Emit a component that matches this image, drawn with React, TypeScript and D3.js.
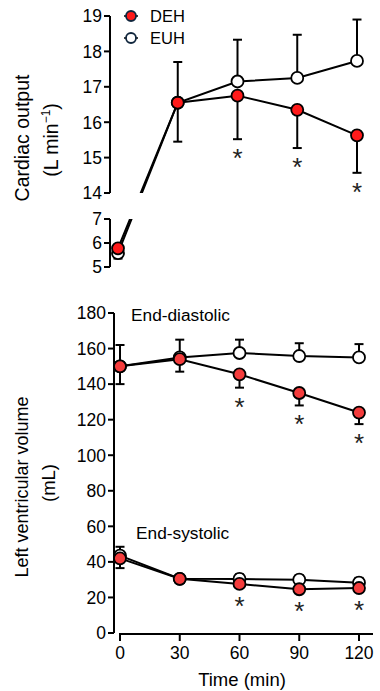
import React from 'react';
import * as d3 from 'd3';

// time points (min)
const times = [0, 30, 60, 90, 120];

// cardiac output (L/min)
const coDEH = [5.78, 16.55, 16.75, 16.35, 15.63];
const coEUH = [5.58, 16.55, 17.15, 17.25, 17.73];
const coDEHlo = [null, 15.45, 15.52, 15.27, 14.57];
const coEUHhi = [null, 17.7, 18.33, 18.47, 18.9];
const coEUHlo = [5.35, null, null, null, null];
const coSig = [false, false, true, true, true];

// left ventricular volumes (mL)
const edDEH = [150, 154, 145.5, 135, 124];
const edEUH = [150, 155, 157.5, 155.8, 155];
const edDEHlo = [140, 147, 138, 128, 117.5];
const edEUHhi = [162, 165, 165, 163, 162.5];
const esDEH = [42, 30.5, 27.6, 24.6, 25.3];
const esEUH = [43.5, 30.5, 30.4, 30, 28.3];
const esDEHlo = [36.5, 28.5, 26, 23, 23.5];
const esEUHhi = [48.5, 32.5, 33, 32.5, 31];
const lvSig = [false, false, true, true, true];

const coUpperTicks = [14, 15, 16, 17, 18, 19];
const coLowerTicks = [5, 6, 7];
const lvTicks = [0, 20, 40, 60, 80, 100, 120, 140, 160, 180];
const timeTicks = [0, 30, 60, 90, 120];

const FONT = 'Liberation Sans, Arial, sans-serif';
const RED_TOP = '#ff1a1a';
const RED_BOT = '#f43c3c';
const R = 6;
const CAP = 4.5;

function ErrBars({ vals, ends, x, y }: { vals: number[]; ends: (number | null)[]; x: any; y: any }) {
  return (
    <g stroke="#000" strokeWidth={2}>
      {ends.map((e, i) =>
        e == null ? null : (
          <g key={i}>
            <line x1={x(times[i])} x2={x(times[i])} y1={y(vals[i])} y2={y(e)} />
            <line x1={x(times[i]) - CAP} x2={x(times[i]) + CAP} y1={y(e)} y2={y(e)} />
          </g>
        )
      )}
    </g>
  );
}

function Markers({ vals, x, y, fill }: { vals: number[]; x: any; y: any; fill: string }) {
  return (
    <g>
      {vals.map((v, i) => (
        <circle key={i} cx={x(times[i])} cy={y(v)} r={R} fill={fill} stroke="#000" strokeWidth={1.8} />
      ))}
    </g>
  );
}

function Stars({ vals, los, sig, x, y }: { vals: number[]; los: (number | null)[]; sig: boolean[]; x: any; y: any }) {
  return (
    <g>
      {sig.map((s, i) => {
        if (!s) return null;
        const base = los[i] != null ? y(los[i]) : y(vals[i]) + 4;
        return (
          <text key={i} x={x(times[i])} y={base + 15 + 13} textAnchor="middle" fontSize={26}
            fill="#222" fontFamily={FONT}>*</text>
        );
      })}
    </g>
  );
}

export default function App() {
  // top panel (broken axis)
  const xTop = d3.scaleLinear().domain([0, 120]).range([118, 357]);
  const yUp = d3.scaleLinear().domain([14, 19]).range([193, 16]);
  const yLo = d3.scaleLinear().domain([5, 7]).range([267, 219]);
  const yCO = (v: number) => (v >= 10 ? yUp(v) : yLo(v));

  // bottom panel
  const xBot = d3.scaleLinear().domain([0, 120]).range([120, 359]);
  const yLV = d3.scaleLinear().domain([0, 180]).range([633, 313]);

  const line = (x: any, y: any) =>
    d3.line<number>().x((_, i) => x(times[i])).y((d) => y(d));

  const coLine = line(xTop, yCO);
  const lvLine = line(xBot, yLV);

  const axTop = 110;
  const axBot = 114;

  return (
    <svg width={380} height={691} style={{ position: 'fixed', left: 0, top: 0, background: '#fff' }}
      fontFamily={FONT}>
      <defs>
        <clipPath id="coClip">
          <rect x={0} y={0} width={380} height={193} />
          <rect x={0} y={219} width={380} height={60} />
        </clipPath>
      </defs>

      {/* ---- top panel: cardiac output ---- */}
      <g stroke="#000" strokeWidth={2} fill="none">
        <line x1={axTop} x2={axTop} y1={yUp(19)} y2={yUp(14)} />
        <line x1={axTop} x2={axTop} y1={yLo(7)} y2={yLo(5)} />
        {coUpperTicks.map((t) => (
          <line key={'u' + t} x1={axTop - 6} x2={axTop} y1={yUp(t)} y2={yUp(t)} />
        ))}
        {coLowerTicks.map((t) => (
          <line key={'l' + t} x1={axTop - 6} x2={axTop} y1={yLo(t)} y2={yLo(t)} />
        ))}
      </g>
      <g fontSize={17.5} textAnchor="end" fill="#000">
        {coUpperTicks.map((t) => (
          <text key={t} x={axTop - 8} y={yUp(t)} dy="0.36em">{t}</text>
        ))}
        {coLowerTicks.map((t) => (
          <text key={t} x={axTop - 8} y={yLo(t)} dy="0.36em">{t}</text>
        ))}
      </g>
      <text transform="translate(29,138) rotate(-90)" textAnchor="middle" fontSize={19.5}>Cardiac output</text>
      <text transform="translate(58,140) rotate(-90)" textAnchor="middle" fontSize={19.5}>
        (L min<tspan fontSize={12} dy={-8}>−1</tspan><tspan dy={8}>)</tspan>
      </text>

      <g clipPath="url(#coClip)" fill="none" stroke="#000" strokeWidth={2}>
        <path d={coLine(coEUH) || ''} />
        <path d={coLine(coDEH) || ''} />
      </g>
      <ErrBars vals={coEUH} ends={coEUHhi} x={xTop} y={yCO} />
      <ErrBars vals={coEUH} ends={coEUHlo} x={xTop} y={yCO} />
      <ErrBars vals={coDEH} ends={coDEHlo} x={xTop} y={yCO} />
      <Markers vals={coEUH} x={xTop} y={yCO} fill="#fff" />
      <Markers vals={coDEH} x={xTop} y={yCO} fill={RED_TOP} />
      <Stars vals={coDEH} los={coDEHlo} sig={coSig} x={xTop} y={yCO} />

      {/* legend */}
      <g>
        <line x1={124} x2={138} y1={16} y2={16} stroke="#000" strokeWidth={1.5} />
        <circle cx={131} cy={16} r={5} fill={RED_TOP} stroke="#10263d" strokeWidth={1.8} />
        <text x={150} y={16} dy="0.36em" fontSize={16.5}>DEH</text>
        <line x1={124} x2={138} y1={38} y2={38} stroke="#000" strokeWidth={1.5} />
        <circle cx={131} cy={38} r={5} fill="#fff" stroke="#10263d" strokeWidth={1.8} />
        <text x={150} y={38} dy="0.36em" fontSize={16.5}>EUH</text>
      </g>

      {/* ---- bottom panel: LV volume ---- */}
      <g stroke="#000" strokeWidth={2} fill="none">
        <line x1={axBot} x2={axBot} y1={yLV(180)} y2={yLV(0)} />
        {lvTicks.map((t) => (
          <line key={t} x1={axBot - 6} x2={axBot} y1={yLV(t)} y2={yLV(t)} />
        ))}
        <line x1={xBot(0) - 1} x2={373} y1={634} y2={634} />
        {timeTicks.map((t) => (
          <line key={t} x1={xBot(t)} x2={xBot(t)} y1={634} y2={641} />
        ))}
      </g>
      <g fontSize={17.5} textAnchor="end">
        {lvTicks.map((t) => (
          <text key={t} x={axBot - 8} y={yLV(t)} dy="0.36em">{t}</text>
        ))}
      </g>
      <g fontSize={17.5} textAnchor="middle">
        {timeTicks.map((t) => (
          <text key={t} x={xBot(t)} y={653} dy="0.36em">{t}</text>
        ))}
      </g>
      <text x={242} y={679} dy="0.36em" textAnchor="middle" fontSize={18.5}>Time (min)</text>
      <text transform="translate(28,487) rotate(-90)" textAnchor="middle" fontSize={18}>Left ventricular volume</text>
      <text transform="translate(55,483) rotate(-90)" textAnchor="middle" fontSize={18.5}>(mL)</text>

      <text x={131} y={315} dy="0.36em" fontSize={17.3}>End-diastolic</text>
      <text x={136} y={533} dy="0.36em" fontSize={17.3}>End-systolic</text>

      <g fill="none" stroke="#000" strokeWidth={2}>
        <path d={lvLine(edEUH) || ''} />
        <path d={lvLine(edDEH) || ''} />
        <path d={lvLine(esEUH) || ''} />
        <path d={lvLine(esDEH) || ''} />
      </g>
      <ErrBars vals={edEUH} ends={edEUHhi} x={xBot} y={yLV} />
      <ErrBars vals={edDEH} ends={edDEHlo} x={xBot} y={yLV} />
      <ErrBars vals={esEUH} ends={esEUHhi} x={xBot} y={yLV} />
      <ErrBars vals={esDEH} ends={esDEHlo} x={xBot} y={yLV} />
      <Markers vals={edEUH} x={xBot} y={yLV} fill="#fff" />
      <Markers vals={edDEH} x={xBot} y={yLV} fill={RED_BOT} />
      <Markers vals={esEUH} x={xBot} y={yLV} fill="#fff" />
      <Markers vals={esDEH} x={xBot} y={yLV} fill={RED_BOT} />
      <Stars vals={edDEH} los={edDEHlo} sig={lvSig} x={xBot} y={yLV} />
      <Stars vals={esDEH} los={esDEHlo} sig={lvSig} x={xBot} y={yLV} />
    </svg>
  );
}
